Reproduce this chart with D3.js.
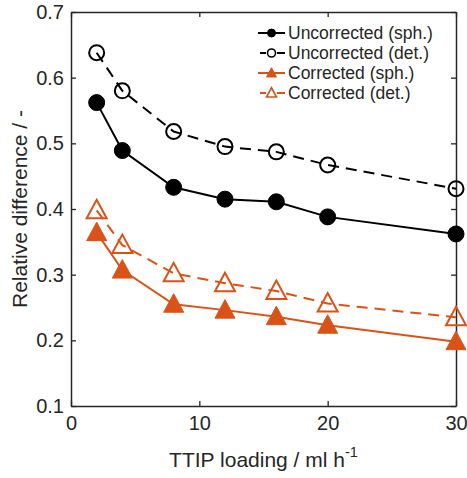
<!DOCTYPE html>
<html lang="en">
<head>
<meta charset="UTF-8">
<script src="https://d3js.org/d3.v7.min.js"></script>
<style>
  body { margin: 0; background: #fff; }
  text { font-family: "Liberation Sans", Arial, sans-serif; fill: #262626; }
</style>
</head>
<body>
<script>
// data
var loading = [2, 4, 8, 12, 16, 20, 30]
var uncorrSph = [0.562, 0.489, 0.433, 0.415, 0.411, 0.388, 0.362]
var uncorrDet = [0.638, 0.580, 0.518, 0.495, 0.487, 0.467, 0.431]
var corrSph = [0.364, 0.307, 0.255, 0.246, 0.236, 0.223, 0.198]
var corrDet = [0.398, 0.345, 0.302, 0.287, 0.275, 0.256, 0.235]
var xTicks = [0, 10, 20, 30]
var yTicks = [0.1, 0.2, 0.3, 0.4, 0.5, 0.6, 0.7]
var seriesNames = ["Uncorrected (sph.)", "Uncorrected (det.)", "Corrected (sph.)", "Corrected (det.)"]

var black = "#000000", orange = "#D95319", axisCol = "#262626"

var series = [
  { name: seriesNames[0], values: uncorrSph, color: black, dash: null, marker: "circle", filled: true },
  { name: seriesNames[1], values: uncorrDet, color: black, dash: "11,7", marker: "circle", filled: false },
  { name: seriesNames[2], values: corrSph, color: orange, dash: null, marker: "triangle", filled: true },
  { name: seriesNames[3], values: corrDet, color: orange, dash: "11,7", marker: "triangle", filled: false }
]

var W = 467, H = 478
// plot box edges ("top" is taken on window, so prefixed names)
var pLeft = 71, pRight = 456, pTop = 12, pBottom = 406

var svg = d3.select("body").append("svg")
  .attr("width", W)
  .attr("height", H)

var x = d3.scaleLinear().domain([0, 30]).range([pLeft, pRight])
var y = d3.scaleLinear().domain([0.1, 0.7]).range([pBottom, pTop])

// box and inward ticks on every side
var g = svg.append("g")

g.append("g").attr("transform", "translate(0," + pBottom + ")")
  .call(d3.axisBottom(x).tickValues(xTicks).tickSizeInner(-5).tickSizeOuter(0).tickPadding(10))
g.append("g").attr("transform", "translate(0," + pTop + ")")
  .call(d3.axisTop(x).tickValues(xTicks).tickSizeInner(-5).tickSizeOuter(0).tickFormat(""))
g.append("g").attr("transform", "translate(" + pLeft + ",0)")
  .call(d3.axisLeft(y).tickValues(yTicks).tickSizeInner(-5).tickSizeOuter(0).tickPadding(7).tickFormat(d3.format(".1f")))
g.append("g").attr("transform", "translate(" + pRight + ",0)")
  .call(d3.axisRight(y).tickValues(yTicks).tickSizeInner(-5).tickSizeOuter(0).tickFormat(""))

g.selectAll(".domain").attr("stroke", axisCol).attr("stroke-width", 1.5)
g.selectAll(".tick line").attr("stroke", axisCol).attr("stroke-width", 1.3)
g.selectAll(".tick text").attr("font-size", "20px").attr("fill", axisCol)
  .attr("font-family", "Liberation Sans, Arial, sans-serif")

// markers
function markerPath(type, s) {
  if (type === "triangle") {
    return "M0," + (-1.05 * s) + "L" + s + "," + (0.8 * s) + "L" + (-s) + "," + (0.8 * s) + "Z"
  }
  return d3.symbol().type(d3.symbolCircle).size(Math.PI * s * s)()
}

function drawMarker(sel, d, s) {
  sel.append("path")
    .attr("d", markerPath(d.marker, s))
    .attr("fill", d.filled ? d.color : "none")
    .attr("stroke", d.color)
    .attr("stroke-width", d.filled ? 1 : 2)
}

var line = d3.line()
  .x(function (d) { return x(d[0]) })
  .y(function (d) { return y(d[1]) })

series.forEach(function (s) {
  var pts = loading.map(function (l, i) { return [l, s.values[i]] })
  svg.append("path")
    .datum(pts)
    .attr("d", line)
    .attr("fill", "none")
    .attr("stroke", s.color)
    .attr("stroke-width", 2)
    .attr("stroke-dasharray", s.dash)

  pts.forEach(function (p) {
    var m = svg.append("g").attr("transform", "translate(" + x(p[0]) + "," + y(p[1]) + ")")
    var size = s.marker === "circle" ? (s.filled ? 8 : 7.5) : 10
    drawMarker(m, s, size)
  })
})

// legend
var leg = svg.append("g").attr("transform", "translate(258,33)")
series.forEach(function (s, i) {
  var row = leg.append("g").attr("transform", "translate(0," + (i * 20) + ")")
  if (s.dash) {
    row.append("line").attr("x1", 2).attr("x2", 8).attr("stroke", s.color).attr("stroke-width", 2)
    row.append("line").attr("x1", 19).attr("x2", 27).attr("stroke", s.color).attr("stroke-width", 2)
  } else {
    row.append("line").attr("x1", 0).attr("x2", 27).attr("stroke", s.color).attr("stroke-width", 2)
  }
  var m = row.append("g").attr("transform", "translate(13.5,0)")
  var size = s.marker === "circle" ? 4 : 5
  drawMarker(m, s, size)
  m.select("path").attr("stroke-width", s.filled ? 1 : 1.6)
  row.append("text")
    .attr("x", 30)
    .attr("y", 6)
    .attr("font-size", "17.5px")
    .text(s.name)
})

// axis labels
var xl = svg.append("text")
  .attr("x", (pLeft + pRight) / 2)
  .attr("y", 467)
  .attr("text-anchor", "middle")
  .attr("font-size", "21px")
xl.append("tspan").text("TTIP loading / ml h")
xl.append("tspan").attr("dy", -10).attr("font-size", "14.5px").text("-1")

svg.append("text")
  .attr("transform", "translate(27," + ((pTop + pBottom) / 2) + ") rotate(-90)")
  .attr("text-anchor", "middle")
  .attr("font-size", "21px")
  .text("Relative difference / -")
</script>
</body>
</html>
